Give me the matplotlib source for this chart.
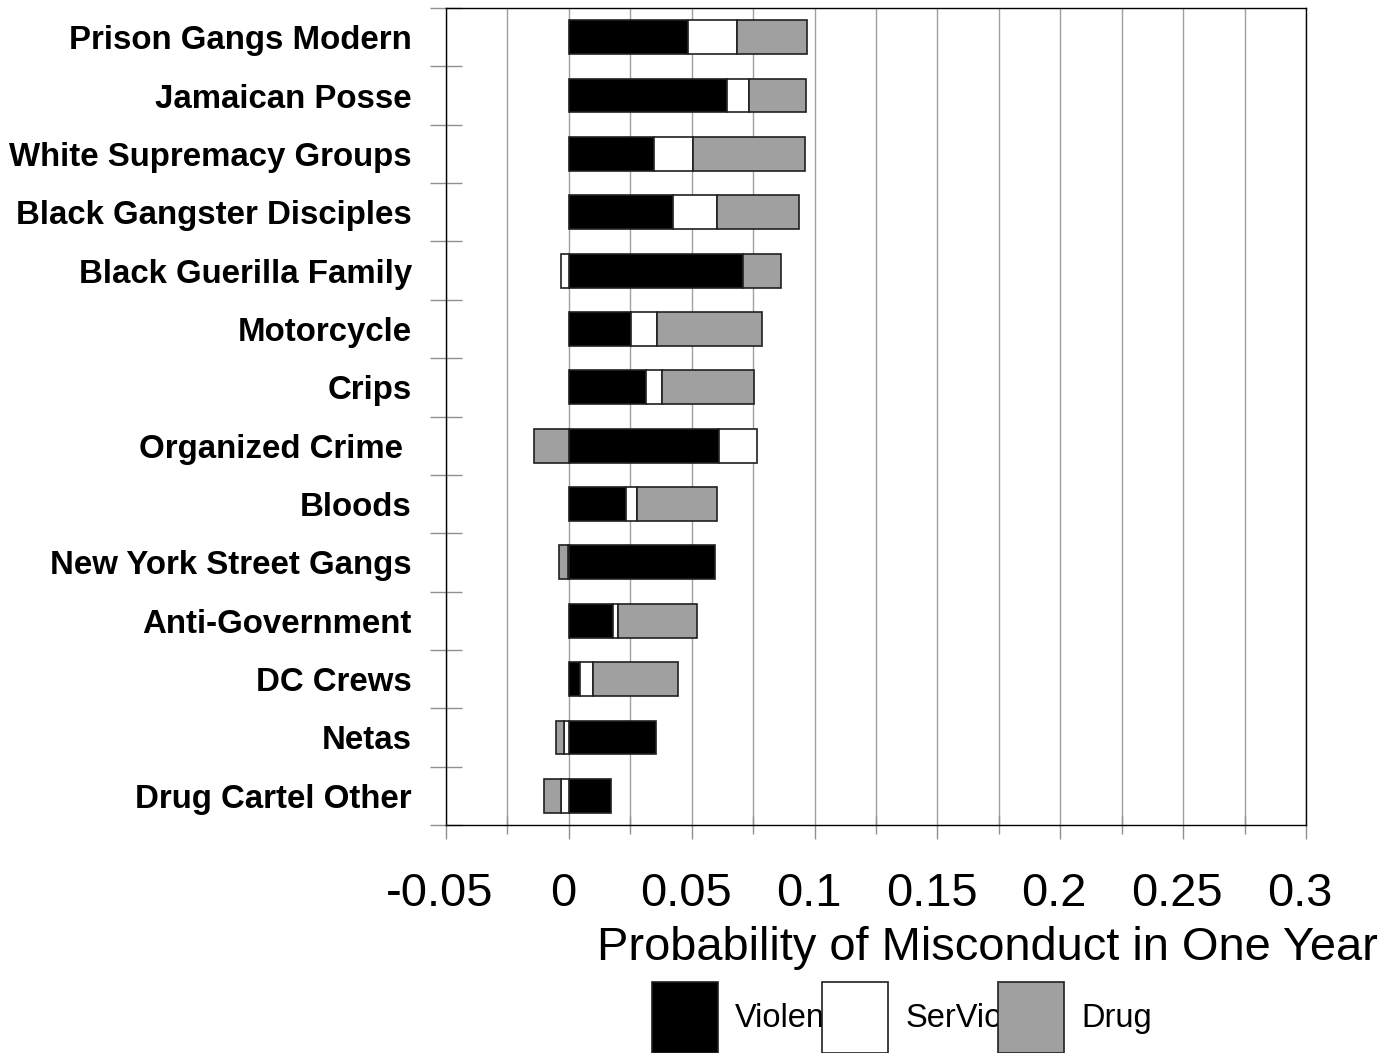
import numpy as np
import matplotlib
matplotlib.use("Agg")
import matplotlib.pyplot as plt
from matplotlib.ticker import MultipleLocator, FixedLocator
from matplotlib.transforms import ScaledTranslation

plt.rcParams['font.family'] = ['Liberation Sans', 'DejaVu Sans']

groups = ["Prison Gangs Modern", "Jamaican Posse", "White Supremacy Groups",
          "Black Gangster Disciples", "Black Guerilla Family", "Motorcycle",
          "Crips", "Organized Crime ", "Bloods", "New York Street Gangs",
          "Anti-Government", "DC Crews", "Netas", "Drug Cartel Other"]

violent = [0.0484, 0.0642, 0.0345, 0.0422, 0.0710, 0.0253, 0.0314,
           0.0612, 0.0233, 0.0595, 0.0178, 0.0046, 0.0355, 0.0172]
serviol = [0.0200, 0.0090, 0.0160, 0.0180, -0.0032, 0.0107, 0.0066,
           0.0154, 0.0045, -0.0005, 0.0024, 0.0053, -0.0020, -0.0031]
drug = [0.0285, 0.0235, 0.0455, 0.0333, 0.0154, 0.0426, 0.0373,
        -0.0142, 0.0325, -0.0035, 0.0320, 0.0345, -0.0033, -0.0069]

xticks = [-0.05, 0, 0.05, 0.1, 0.15, 0.2, 0.25, 0.3]
xlabels = ["-0.05", "0", "0.05", "0.1", "0.15", "0.2", "0.25", "0.3"]

series = [("Violent", violent, "black"),
          ("SerViol", serviol, "white"),
          ("Drug", drug, "#a0a0a0")]

fig = plt.figure(figsize=(13.95, 10.53), dpi=100)
ax = fig.add_axes([446/1395, 1-825/1053, 860/1395, 817/1053])

y = np.arange(len(groups))
pos = np.zeros(len(groups))
neg = np.zeros(len(groups))
for name, vals, col in series:
    vals = np.array(vals)
    left = np.where(vals >= 0, pos, neg)
    ax.barh(y, vals, left=left, height=0.58, color=col, edgecolor="#202020",
            linewidth=1.2, label=name, zorder=3)
    pos = pos + np.where(vals >= 0, vals, 0)
    neg = neg + np.where(vals < 0, vals, 0)

ax.set_xlim(-0.05, 0.3)
ax.set_ylim(len(groups) - 0.5, -0.5)

ax.set_xticks(xticks, xlabels)
ax.xaxis.set_minor_locator(MultipleLocator(0.025))
ax.grid(axis="x", which="both", color="#a0a0a0", linewidth=1, zorder=0)
ax.tick_params(axis="x", which="major", direction="out", length=10, width=1,
               color="#909090", labelsize=33.8, pad=24)
ax.tick_params(axis="x", which="minor", direction="inout", length=13, width=1,
               color="#909090")
# labels sit a bit left of their ticks in the original
shift = ScaledTranslation(-0.06, 0, fig.dpi_scale_trans)
for lab in ax.get_xticklabels():
    lab.set_transform(lab.get_transform() + shift)

ax.set_yticks(y)
ax.set_yticklabels(groups, fontsize=23.8, fontweight="bold")
ax.yaxis.set_minor_locator(FixedLocator(np.arange(-0.5, len(groups), 1)))
ax.tick_params(axis="y", which="major", length=0, pad=24.5)
ax.tick_params(axis="y", which="minor", direction="inout", length=23, width=1,
               color="#909090")

for s in ax.spines.values():
    s.set_color("black")
    s.set_linewidth(1)

ax.set_xlabel("Probability of Misconduct in One Year", fontsize=33.8)
ax.xaxis.set_label_coords(0.63, -0.124)

fig.legend(loc="upper left", bbox_to_anchor=(652/1395, 1-982/1053), ncol=3,
           frameon=False, fontsize=23.5, handlelength=2.02, handleheight=2.95,
           handletextpad=0.52, columnspacing=-0.35, borderpad=0,
           borderaxespad=0)

fig.savefig("out.png", dpi=100)
